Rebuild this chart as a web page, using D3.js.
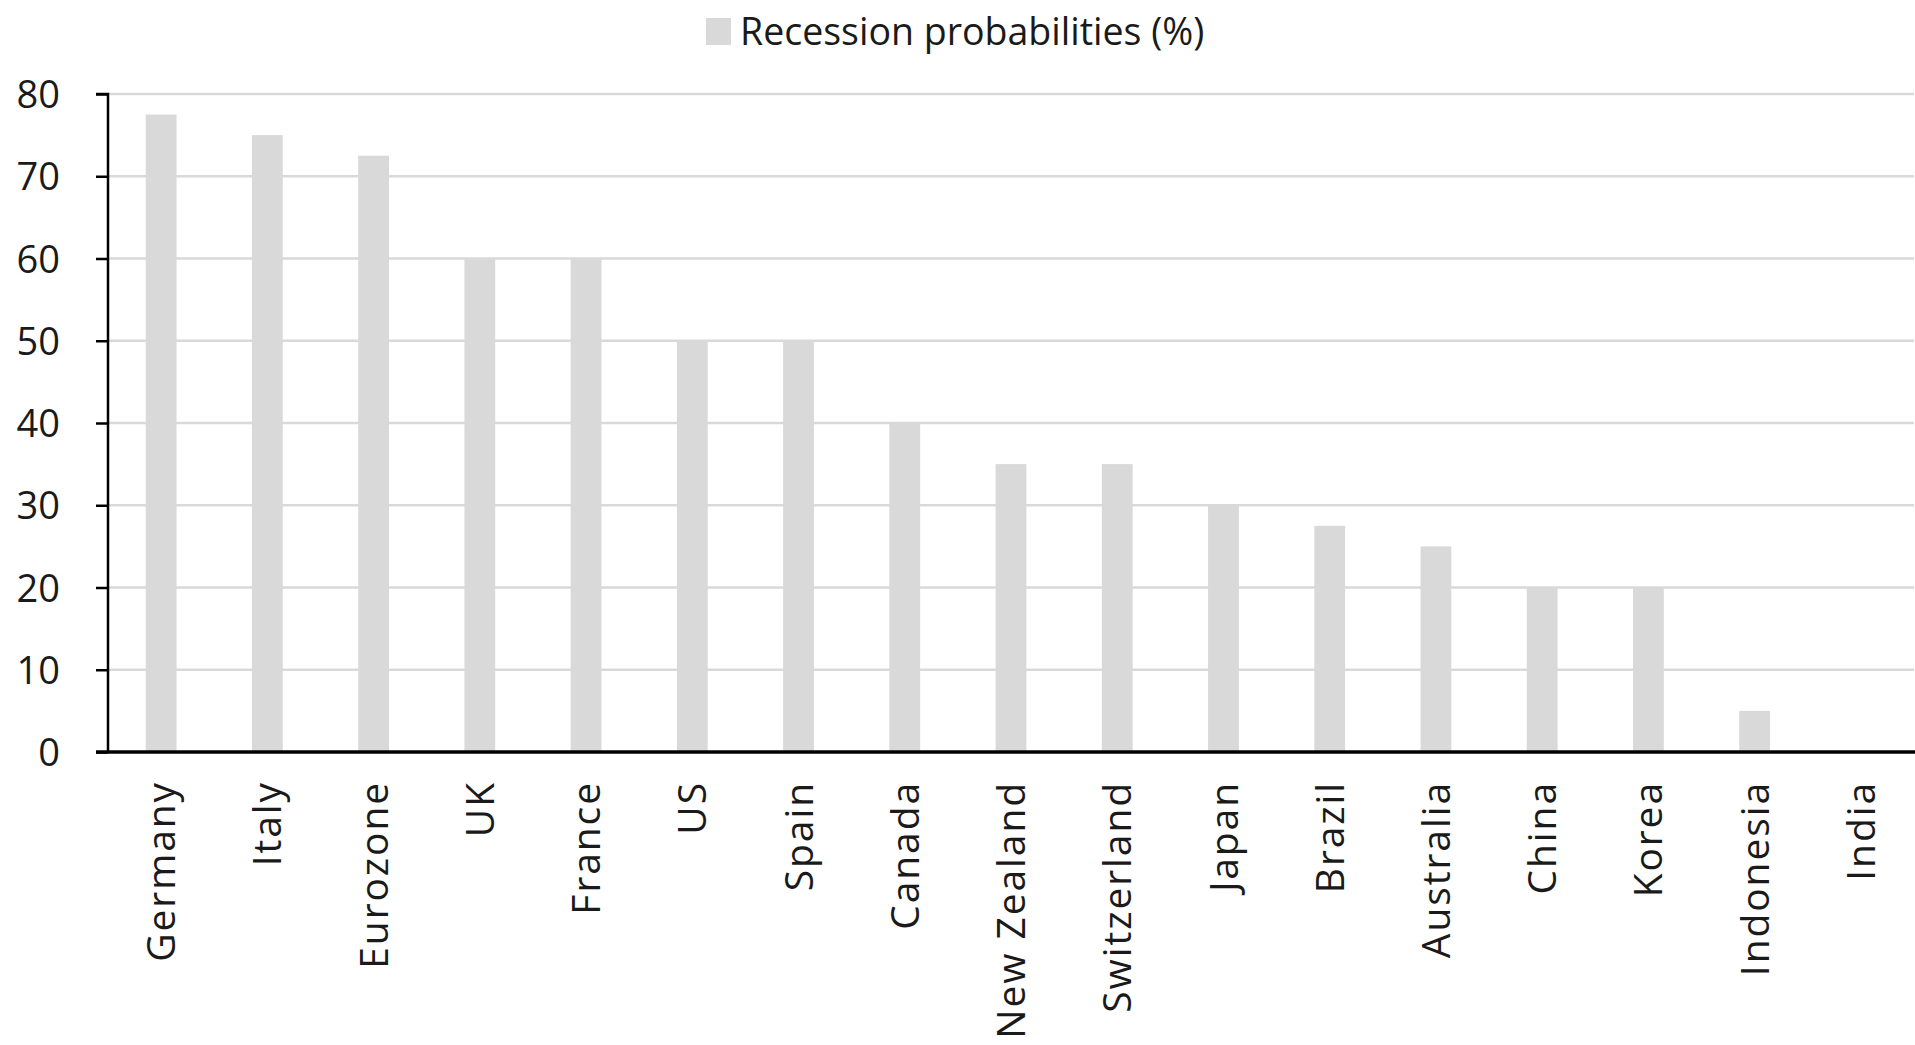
<!DOCTYPE html>
<html>
<head>
<meta charset="utf-8">
<script src="https://cdn.jsdelivr.net/npm/d3@7"></script>
<style>
  html, body { margin: 0; padding: 0; background: #fff; }
  svg { display: block; }
</style>
</head>
<body>
<script>
const categories = ["Germany","Italy","Eurozone","UK","France","US","Spain","Canada","New Zealand","Switzerland","Japan","Brazil","Australia","China","Korea","Indonesia","India"];
const values = [77.5, 75, 72.5, 60, 60, 50, 50, 40, 35, 35, 30, 27.5, 25, 20, 20, 5, 0];
const yTicks = [0, 10, 20, 30, 40, 50, 60, 70, 80];
const seriesName = "Recession probabilities (%)";

const W = 1915, H = 1045;
const margin = {left: 108, right: 1, top: 94, bottom: 293};
const font = "'Open Sans', sans-serif";
const textColor = "#1a1a1a";
const barColor = "#d9d9d9";

const svg = d3.select("body").append("svg").attr("width", W).attr("height", H);

const x = d3.scaleBand().domain(categories).range([margin.left, W - margin.right]).paddingInner(0.71).paddingOuter(0.355);
const y = d3.scaleLinear().domain([0, 80]).range([H - margin.bottom, margin.top]);

// gridlines
svg.append("g").selectAll("line").data(yTicks.filter(d => d > 0)).join("line")
  .attr("x1", margin.left).attr("x2", W - margin.right)
  .attr("y1", d => y(d)).attr("y2", d => y(d))
  .attr("stroke", "#d9d9d9").attr("stroke-width", 2.5);

// bars
svg.append("g").selectAll("rect").data(values).join("rect")
  .attr("x", (d, i) => x(categories[i]))
  .attr("width", x.bandwidth())
  .attr("y", d => y(d))
  .attr("height", d => y(0) - y(d))
  .attr("fill", barColor);

// y axis
const yAxis = d3.axisLeft(y).tickValues(yTicks).tickSize(12).tickPadding(36).tickFormat(d3.format("d"));
const gy = svg.append("g").attr("transform", `translate(${margin.left},0)`).call(yAxis);
gy.select(".domain").attr("stroke", "#000").attr("stroke-width", 2.5).attr("d", `M-12,${y(80)}H0V${y(0)}`);
gy.selectAll(".tick line").attr("stroke", "#000").attr("stroke-width", 2.5);
gy.selectAll(".tick text").attr("font-family", font).attr("font-size", 38).attr("fill", textColor).attr("dy", "0.36em").attr("x", -48);

// x axis
const xAxis = d3.axisBottom(x).tickSize(0).tickPadding(0);
const gx = svg.append("g").attr("transform", `translate(0,${y(0)})`).call(xAxis);
gx.select(".domain").attr("stroke", "#000").attr("stroke-width", 3.5).attr("d", `M${margin.left - 12},0H${W}`);
gx.selectAll(".tick text")
  .attr("font-family", font).attr("font-size", 39).attr("fill", textColor)
  .attr("letter-spacing", 1.9)
  .attr("text-anchor", "end")
  .attr("transform", "rotate(-90)")
  .attr("x", -29).attr("y", 0).attr("dy", "0.36em");

// legend
const lg = svg.append("g");
lg.append("rect").attr("x", 706).attr("y", 18).attr("width", 25).attr("height", 27).attr("fill", barColor);
lg.append("text").attr("x", 740).attr("y", 45).attr("font-family", font).attr("font-size", 37.5).attr("fill", textColor).text(seriesName);
</script>
</body>
</html>
